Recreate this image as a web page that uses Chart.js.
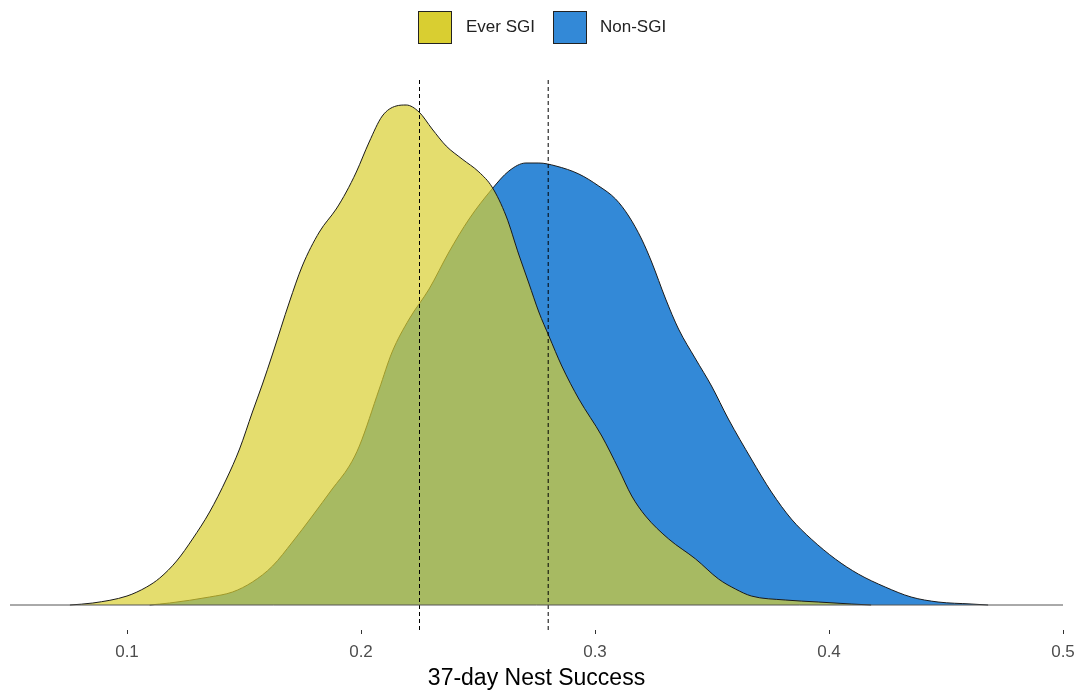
<!DOCTYPE html>
<html>
<head>
<meta charset="utf-8">
<script src="https://cdn.jsdelivr.net/npm/chart.js@4.4.1/dist/chart.umd.min.js"></script>
<style>
    html, body { margin: 0; padding: 0; background: #fff; }
    #wrap { position: relative; width: 1081px; height: 690px; }
    #legend { position: absolute; top: 11px; left: 0; width: 1081px; height: 34px;
        font-family: "Liberation Sans", Arial, sans-serif; font-size: 17px; color: #222; }
    .key { position: absolute; top: 0; width: 32px; height: 31px; border: 1.5px solid #222; }
    .lab { position: absolute; top: 6px; }
</style>
</head>
<body>
<div id="wrap">
    <canvas id="nestChart" width="1081" height="690"></canvas>
    <div id="legend"></div>
</div>
<script>
// Posterior density of 37-day nest success, by group
const seriesNames = ['Ever SGI', 'Non-SGI'];
const seriesColors = ['#d9ce31', '#3389d7'];

const everX = [0.0756, 0.0854, 0.100, 0.1084, 0.114, 0.1212, 0.128, 0.1353, 0.1425, 0.1481, 0.1536,
    0.1579, 0.1622, 0.1694, 0.1749, 0.1822, 0.1894, 0.1937, 0.198, 0.2035, 0.2091, 0.215, 0.2193,
    0.2248, 0.2304, 0.2364, 0.2432, 0.2504, 0.256, 0.262, 0.2675, 0.2717, 0.276, 0.2803, 0.2858,
    0.2931, 0.3029, 0.3101, 0.3157, 0.3216, 0.3315, 0.343, 0.3528, 0.360, 0.3668, 0.3813, 0.3954,
    0.4095, 0.418];
const everDensity = [0, 0.04, 0.18, 0.36, 0.54, 0.88, 1.32, 1.86, 2.52, 3.12, 3.86,
    4.42, 5.02, 6.06, 6.78, 7.46, 7.92, 8.26, 8.66, 9.26, 9.78, 9.98, 10.0,
    9.86, 9.52, 9.18, 8.92, 8.66, 8.36, 7.78, 7.0, 6.44, 5.86, 5.38, 4.78,
    4.12, 3.38, 2.72, 2.18, 1.78, 1.32, 0.92, 0.52, 0.32, 0.18, 0.10, 0.06,
    0.02, 0];

const nonX = [0.1097, 0.1182, 0.1353, 0.1451, 0.1536, 0.1622, 0.1707, 0.1792, 0.1877, 0.195, 0.1993,
    0.2078, 0.2133, 0.2206, 0.2291, 0.2376, 0.2462, 0.256, 0.2632, 0.2705, 0.276, 0.2833, 0.2931,
    0.3016, 0.3088, 0.3144, 0.3199, 0.3242, 0.3302, 0.3357, 0.343, 0.3498, 0.357, 0.3668, 0.3754,
    0.3839, 0.3924, 0.4027, 0.4125, 0.424, 0.4351, 0.4466, 0.4607, 0.468];
const nonDensity = [0, 0.04, 0.16, 0.26, 0.46, 0.78, 1.26, 1.78, 2.32, 2.78, 3.18,
    4.32, 5.06, 5.72, 6.32, 7.06, 7.72, 8.32, 8.68, 8.84, 8.84, 8.78, 8.62,
    8.38, 8.12, 7.78, 7.32, 6.86, 6.12, 5.52, 4.92, 4.38, 3.72, 2.92, 2.26,
    1.72, 1.32, 0.92, 0.62, 0.36, 0.16, 0.06, 0.02, 0];

// medians of each group, drawn as dashed verticals
const medianValues = [0.225, 0.28];
const xTickValues = [0.1, 0.2, 0.3, 0.4, 0.5];
const xRange = [0.05, 0.5];
const yRange = [-0.5, 10.5];

const toPoints = (xs, ys) => xs.map((x, i) => ({ x: x, y: ys[i] }));

const datasets = [
    {
        label: seriesNames[0],
        data: toPoints(everX, everDensity),
        backgroundColor: 'rgba(217, 206, 49, 0.7)',
        borderColor: '#1a1a1a',
        borderWidth: 1,
        fill: 'origin',
        cubicInterpolationMode: 'monotone',
        pointRadius: 0,
        order: 1
    },
    {
        label: seriesNames[1],
        data: toPoints(nonX, nonDensity),
        backgroundColor: seriesColors[1],
        borderColor: '#1a1a1a',
        borderWidth: 1,
        fill: 'origin',
        cubicInterpolationMode: 'monotone',
        pointRadius: 0,
        order: 2
    },
    {
        label: 'baseline',
        data: [{ x: xRange[0], y: 0 }, { x: xRange[1], y: 0 }],
        borderColor: '#555',
        borderWidth: 1,
        pointRadius: 0,
        fill: false,
        order: 0
    }
];

medianValues.forEach(m => {
    datasets.push({
        label: 'median',
        data: [{ x: m, y: yRange[0] }, { x: m, y: yRange[1] }],
        borderColor: '#000',
        borderWidth: 1,
        borderDash: [4, 3],
        pointRadius: 0,
        fill: false,
        order: 0
    });
});

// legend row above the plot
const legend = document.getElementById('legend');
const keyLeft = [418, 553];
const labLeft = [466, 600];
legend.innerHTML = seriesNames.map((name, i) => `
    <div class="key" style="left:${keyLeft[i]}px;background:${seriesColors[i]}"></div>
    <div class="lab" style="left:${labLeft[i]}px">${name}</div>
`).join('');

new Chart(document.getElementById('nestChart'), {
    type: 'line',
    data: { datasets },
    options: {
        responsive: false,
        animation: false,
        layout: { padding: { left: 10, right: 18, top: 80, bottom: 0 } },
        plugins: {
            legend: { display: false },
            tooltip: { enabled: false }
        },
        scales: {
            x: {
                type: 'linear',
                min: xRange[0],
                max: xRange[1],
                afterBuildTicks: (scale) => {
                    scale.ticks = xTickValues.map(v => ({ value: v }));
                },
                grid: {
                    drawOnChartArea: false,
                    drawTicks: true,
                    tickLength: 8,
                    // only the top part of each tick is inked, leaving a gap to the label
                    tickBorderDash: [4, 20],
                    color: '#333'
                },
                border: { display: false },
                ticks: {
                    padding: 6,
                    color: '#4d4d4d',
                    font: { family: 'Liberation Sans', size: 17, lineHeight: 1 },
                    callback: (v) => v.toFixed(1)
                },
                title: {
                    display: true,
                    text: '37-day Nest Success',
                    color: '#000',
                    font: { family: 'Liberation Sans', size: 23, lineHeight: 1 },
                    padding: { top: 0, bottom: 0 }
                }
            },
            y: {
                display: false,
                min: yRange[0],
                max: yRange[1]
            }
        }
    }
});
</script>
</body>
</html>
